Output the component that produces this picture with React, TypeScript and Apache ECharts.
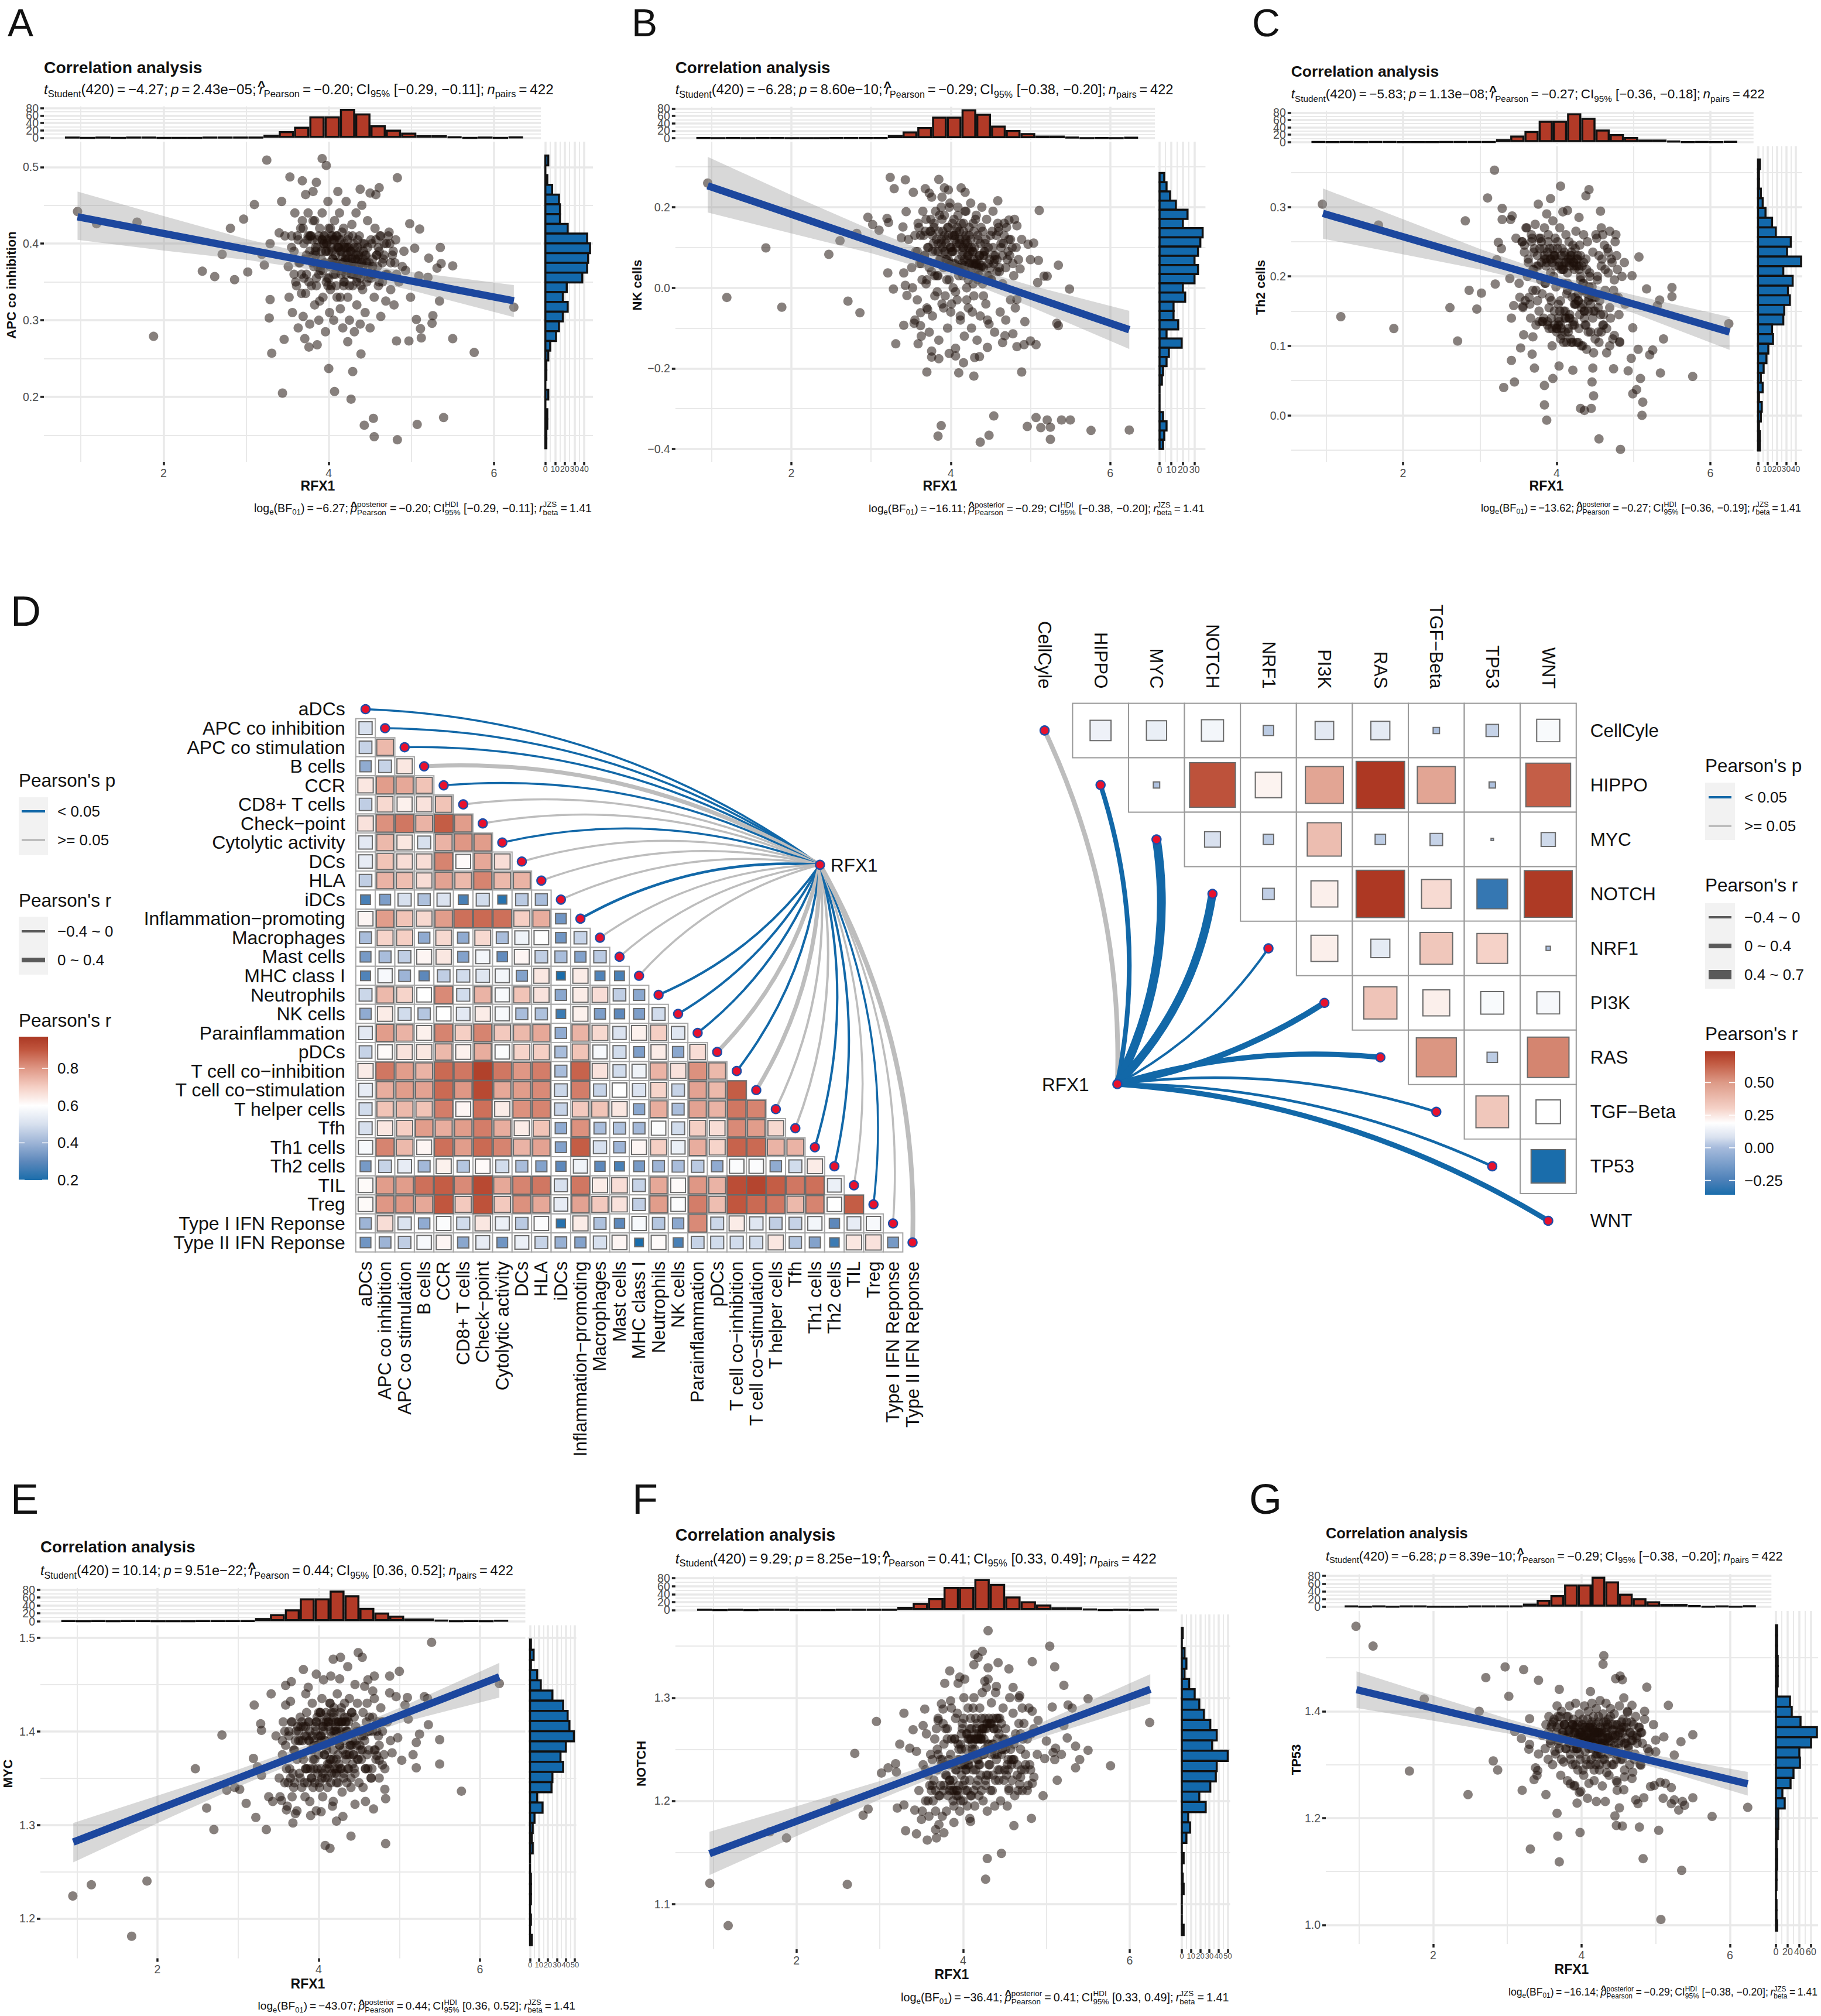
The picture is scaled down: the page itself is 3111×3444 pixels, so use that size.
import React, { useEffect, useRef } from "react";
import * as echarts from "echarts";

const FONT = '"Liberation Sans", Arial, sans-serif';

// ---------- RFX1 histogram (same in all scatter panels) ----------
const rfx1BinStart = 0.805;
const rfx1BinWidth = 0.185;
const rfx1Counts = [1, 0, 1, 0, 1, 1, 0, 0, 0, 1, 1, 1, 1, 8, 18, 30, 58, 58, 78, 66, 34, 22, 14, 7, 7, 3, 0, 1, 0, 2];
const topHistTicks = [0, 20, 40, 60, 80];

// ---------- right histograms ----------
const histA = [3, 0, 2, 7, 14, 15, 15, 23, 43, 46, 44, 43, 38, 22, 18, 23, 18, 14, 11, 5, 3, 1, 1, 0, 3, 0, 2, 2, 1, 1];
const histB = [4, 6, 9, 14, 24, 20, 37, 35, 33, 30, 33, 30, 20, 22, 12, 12, 16, 6, 19, 8, 6, 3, 2, 0, 0, 0, 3, 6, 4, 3];
const histC = [2, 1, 1, 3, 5, 8, 15, 19, 35, 31, 46, 27, 37, 32, 34, 28, 27, 15, 16, 11, 9, 6, 3, 5, 1, 4, 3, 1, 2, 2];
const histE = [1, 4, 1, 8, 12, 25, 37, 42, 44, 49, 40, 34, 37, 25, 24, 8, 14, 5, 3, 2, 3, 0, 0, 1, 1, 1, 0, 1, 0, 2];
const histF = [1, 0, 3, 5, 3, 8, 14, 19, 24, 31, 38, 33, 50, 38, 37, 31, 19, 26, 7, 9, 5, 0, 2, 0, 1, 2, 0, 0, 0, 2];
const histG = [2, 2, 2, 3, 3, 3, 2, 24, 27, 42, 70, 60, 40, 41, 30, 25, 11, 15, 4, 4, 3, 1, 2, 2, 1, 1, 0, 1, 1, 2];

// ---------- regression lines and confidence bands [x, lo, hi] ----------
const lineA = [[0.96, 0.435], [6.24, 0.3254]];
const bandA = [[0.96, 0.405, 0.468], [2, 0.391, 0.436], [3, 0.379, 0.406], [4.1, 0.361, 0.378], [5, 0.339, 0.363], [6.24, 0.304, 0.346]];
const lineB = [[0.95, 0.2533], [6.24, -0.104]];
const bandB = [[0.95, 0.187, 0.325], [2, 0.135, 0.23], [3, 0.086, 0.144], [4.1, 0.023, 0.059], [5, -0.047, 0.006], [6.24, -0.152, -0.057]];
const lineC = [[0.957, 0.2908], [6.25, 0.1199]];
const bandC = [[0.957, 0.2544, 0.3267], [2, 0.2318, 0.2824], [3, 0.21, 0.2396], [4.1, 0.1808, 0.1978], [5, 0.1472, 0.1732], [6.25, 0.0942, 0.1417]];
const lineE = [[0.956, 1.2816], [6.24, 1.4581]];
const bandE = [[0.956, 1.26, 1.302], [2, 1.3018, 1.3312], [3, 1.3407, 1.3591], [4.1, 1.3806, 1.3926], [5, 1.4087, 1.4249], [6.24, 1.436, 1.473]];
const lineF = [[0.956, 1.1488], [6.247, 1.3082]];
const bandF = [[0.956, 1.128, 1.17], [2, 1.1657, 1.1947], [3, 1.2014, 1.2192], [4.1, 1.2379, 1.2489], [5, 1.263, 1.278], [6.247, 1.2944, 1.3229]];
const lineG = [[0.967, 1.4404], [6.24, 1.2641]];
const bandG = [[0.967, 1.4063, 1.4746], [2, 1.3824, 1.4292], [3, 1.3585, 1.3863], [4.1, 1.3286, 1.3426], [5, 1.2937, 1.3173], [6.24, 1.242, 1.2863]];

// ---------- scatter: points readable one by one ----------
const outA = [[.96,.442],[1.19,.426],[1.68,.428],[1.88,.279],[2.47,.364],[2.62,.357],[2.71,.386],[2.81,.42],[2.86,.353],[2.97,.432],[3.02,.363],[3.1,.451],[3.25,.509],[3.19,.386],[3.22,.372],[3.29,.4],[3.4,.414],[3.43,.455],[3.53,.487],[3.68,.482],[3.85,.48],[3.92,.511],[3.97,.502],[3.72,.464],[3.81,.468],[4.11,.468],[4.38,.471],[4.61,.473],[4.83,.486],[4.5,.466],[4.57,.464],[4.98,.426],[5.1,.419],[5.35,.395],[5.21,.381],[5.04,.394],[4.91,.39],[5.36,.374],[5.5,.371],[5.31,.368],[4.93,.365],[5.09,.358],[5.2,.356],[5.34,.325],[4.99,.33],[6.24,.317],[5.76,.258],[5.5,.276],[5.12,.277],[4.97,.273],[4.82,.273],[5.11,.289],[5.25,.296],[5.26,.306],[5.06,.301],[3.29,.327],[3.28,.303],[3.31,.257],[3.46,.275],[3.71,.276],[3.76,.265],[3.86,.268],[4.23,.272],[4.39,.256],[4,.237],[4.29,.233],[3.44,.205],[4.07,.207],[4.27,.197],[4.43,.163],[4.54,.172],[4.55,.148],[4.83,.144],[5.07,.164],[5.39,.173]];
const outB = [[.95,.26],[1.19,-.024],[1.68,.099],[1.88,-.048],[2.47,.083],[2.61,.117],[2.71,-.033],[2.82,.135],[2.86,-.062],[2.96,.175],[3.02,.157],[3.1,.143],[3.2,.172],[3.22,.162],[3.24,.274],[3.43,.268],[3.29,.246],[3.53,.237],[3.44,.189],[3.4,.151],[3.38,.124],[3.21,.037],[3.28,-.003],[3.41,.037],[3.43,.006],[3.45,-.019],[3.62,-.062],[3.71,-.054],[3.41,-.093],[3.54,-.088],[3.62,-.094],[3.31,-.139],[3.59,-.139],[3.7,-.209],[4.1,-.211],[4.29,-.219],[4.89,-.209],[3.85,.269],[3.92,.248],[3.97,.243],[4.13,.248],[4.18,.237],[3.68,.246],[3.73,.235],[3.76,.225],[3.89,.225],[4.59,.216],[5.11,.192],[4.73,.168],[4.83,.154],[4.97,.108],[5.04,.111],[5,.07],[5.1,.068],[5.35,.056],[4.87,.047],[5.17,.029],[5.21,.029],[5.09,.013],[5.49,-.003],[4.83,-.029],[4.93,-.084],[5.33,-.088],[5.35,-.094],[4.78,-.114],[4.68,-.119],[4.65,-.136],[5,-.132],[5.07,-.141],[4.92,-.141],[4.83,-.146],[4.46,-.148],[6.24,-.353],[5.76,-.354],[5.5,-.328],[5.39,-.328],[5.25,-.376],[5.25,-.346],[5.21,-.328],[5.13,-.347],[5.07,-.322],[4.96,-.344],[4.54,-.318],[4.48,-.366],[4.37,-.383],[3.88,-.342],[3.84,-.368],[3.76,-.157],[3.76,-.172],[3.85,-.176],[3.98,-.163],[4.06,-.169],[4.16,-.186],[4.3,-.173],[4.36,-.171]];
const outC = [[.95,.304],[1.19,.142],[1.68,.274],[1.88,.125],[2.61,.155],[2.71,.107],[2.81,.28],[2.86,.18],[2.96,.153],[3.02,.176],[3.1,.313],[3.19,.353],[3.29,.298],[3.29,.282],[3.42,.287],[3.4,.282],[3.2,.189],[3.24,.249],[3.28,.24],[3.22,.224],[3.39,.197],[3.41,.14],[3.44,.158],[3.56,.157],[3.57,.116],[3.69,.113],[3.53,.097],[3.68,.088],[3.41,.079],[3.71,.068],[4.03,.071],[3.31,.04],[3.45,.048],[3.84,.043],[3.95,.053],[4.21,.065],[4.47,.068],[4.46,.048],[4.74,.067],[4.93,.064],[4.97,.082],[5.06,.095],[5.09,.053],[5.04,.037],[4.99,.031],[5.12,.019],[5.11,.0],[5.35,.061],[5.77,.056],[5.25,.094],[5.21,.087],[5.39,.11],[4.99,.126],[4.82,.106],[6.24,.132],[5.5,.184],[5.5,.171],[5.34,.166],[5.31,.158],[5.17,.182],[5.07,.228],[4.98,.201],[4.88,.22],[4.77,.26],[4.69,.265],[4.76,.25],[4.57,.294],[4.58,.27],[4.42,.325],[4.38,.316],[4.05,.33],[3.92,.312],[3.76,.304],[4.08,.293],[4.14,.295],[4.29,.285],[3.87,.29],[3.84,.015],[3.87,-.007],[4.31,.01],[4.36,.007],[4.45,.01],[4.48,.028],[4.55,-.034],[4.83,-.049]];
const outE = [[.95,1.224],[1.18,1.236],[1.68,1.181],[1.87,1.24],[2.47,1.36],[2.61,1.318],[2.7,1.295],[2.8,1.396],[2.86,1.337],[2.96,1.34],[3.02,1.338],[3.1,1.323],[3.22,1.308],[3.2,1.428],[3.35,1.295],[3.41,1.44],[3.28,1.408],[3.29,1.401],[3.19,1.371],[3.24,1.362],[3.29,1.353],[3.38,1.33],[3.43,1.325],[3.54,1.326],[3.6,1.316],[3.68,1.302],[3.71,1.312],[3.9,1.31],[4.03,1.314],[4.18,1.325],[4.22,1.304],[4.3,1.309],[4.45,1.322],[4.58,1.325],[4.68,1.317],[4.4,1.288],[4.83,1.28],[4.08,1.278],[4.14,1.275],[5.77,1.336],[5.5,1.365],[5.21,1.361],[5.03,1.369],[5.17,1.375],[4.91,1.377],[5.5,1.391],[5.21,1.388],[5.25,1.397],[4.98,1.393],[5.36,1.407],[5.11,1.413],[6.24,1.451],[5.31,1.437],[5.35,1.435],[5.1,1.436],[4.96,1.437],[5.07,1.428],[4.88,1.441],[4.67,1.443],[4.88,1.459],[5,1.464],[5.4,1.495],[4.49,1.484],[4.54,1.479],[4.18,1.477],[4.27,1.479],[4.36,1.469],[3.81,1.466],[3.97,1.461],[4.15,1.459],[4.26,1.456],[4.06,1.455],[3.66,1.453],[3.59,1.449],[3.87,1.447],[4.69,1.459],[4.61,1.455],[4.57,1.448],[4.45,1.45],[3.84,1.44],[3.65,1.432],[3.59,1.428],[4.82,1.338],[4.83,1.328],[4.79,1.364],[4.72,1.374],[4.75,1.369]];
const outF = [[.96,1.12],[1.18,1.079],[1.68,1.17],[1.88,1.164],[2.46,1.198],[2.61,1.119],[2.7,1.246],[2.8,1.186],[2.86,1.192],[2.96,1.277],[3.02,1.227],[3.1,1.232],[3.19,1.236],[3.2,1.228],[3.24,1.255],[3.29,1.285],[3.4,1.269],[3.52,1.273],[3.54,1.289],[3.36,1.251],[3.44,1.248],[3.21,1.193],[3.29,1.196],[3.42,1.191],[3.5,1.182],[3.31,1.171],[3.44,1.168],[3.57,1.162],[3.68,1.164],[3.77,1.169],[3.67,1.172],[3.71,1.177],[3.89,1.179],[4.09,1.18],[4.08,1.183],[4.61,1.176],[4.82,1.183],[4.46,1.149],[4.29,1.144],[4.27,1.124],[4.96,1.205],[4.77,1.21],[4.55,1.212],[4.68,1.216],[4.83,1.217],[4.85,1.223],[5.13,1.22],[4.69,1.223],[5.77,1.234],[5.35,1.232],[5.4,1.24],[5.1,1.24],[4.98,1.241],[5.18,1.245],[5.08,1.247],[5.11,1.251],[5.5,1.249],[5.35,1.253],[5.25,1.261],[5,1.258],[5.21,1.273],[4.9,1.278],[5.07,1.291],[5.26,1.293],[5.31,1.29],[5.5,1.299],[6.24,1.276],[5.21,1.312],[4.68,1.302],[4.6,1.31],[4.55,1.328],[4.42,1.334],[4.3,1.329],[4.83,1.335],[5.1,1.33],[5.04,1.35],[4.3,1.365],[4.23,1.345],[4.14,1.342],[4.18,1.339],[4.13,1.332],[3.84,1.326],[3.78,1.314],[3.94,1.314],[3.96,1.32],[4.02,1.318],[4.26,1.316],[4.3,1.318],[4.4,1.311],[4.83,1.287],[4.71,1.29],[3.85,1.297],[3.74,1.294],[3.76,1.289],[3.7,1.278]];
const outG = [[.96,1.559],[1.19,1.522],[1.68,1.288],[1.88,1.423],[2.47,1.244],[2.62,1.4],[2.71,1.463],[2.81,1.307],[2.87,1.29],[2.97,1.483],[3.02,1.428],[3.1,1.362],[3.19,1.349],[3.22,1.478],[3.2,1.252],[3.3,1.386],[3.29,1.329],[3.3,1.338],[3.36,1.272],[3.31,1.142],[3.42,1.458],[3.52,1.244],[3.38,1.294],[3.41,1.289],[3.4,1.28],[3.42,1.32],[3.67,1.209],[3.68,1.166],[3.7,1.118],[3.7,1.441],[3.98,1.173],[3.94,1.228],[4.08,1.237],[4.2,1.231],[4.32,1.231],[4.12,1.437],[4.29,1.488],[4.3,1.504],[4.46,1.461],[4.52,1.466],[4.55,1.459],[4.88,1.445],[5.17,1.411],[4.57,1.425],[4.68,1.411],[4.62,1.398],[4.85,1.4],[4.97,1.375],[5.5,1.356],[5.34,1.343],[5.11,1.352],[5,1.346],[4.91,1.324],[5,1.324],[5.25,1.318],[4.8,1.299],[4.69,1.286],[4.68,1.274],[4.58,1.277],[4.93,1.259],[4.98,1.261],[5.06,1.267],[5.13,1.265],[5.21,1.257],[5.5,1.238],[5.1,1.237],[5.25,1.234],[5.21,1.227],[5.36,1.231],[5.39,1.224],[5.31,1.215],[4.84,1.238],[4.73,1.234],[4.76,1.227],[4.51,1.219],[4.45,1.204],[4.47,1.186],[4.55,1.185],[4.78,1.183],[5.04,1.177],[4.83,1.124],[5.35,1.102],[5.07,1.01],[5.76,1.203],[6.24,1.22],[4.48,1.252],[4.57,1.253],[4.48,1.267],[3.97,1.248],[3.91,1.261],[3.85,1.264]];

// ---------- scatter: dense core (same RFX1 samples, different y) ----------
const coreX = [3.47,3.51,3.52,3.55,3.56,3.58,3.59,3.61,3.63,3.64,3.66,3.67,3.69,3.7,3.72,3.73,3.75,3.76,3.77,3.79,3.8,3.81,3.83,3.84,3.85,3.86,3.88,3.89,3.9,3.91,3.92,3.93,3.94,3.95,3.96,3.97,3.98,3.99,4.0,4.01,4.02,4.03,4.04,4.05,4.06,4.07,4.08,4.09,4.1,4.11,4.12,4.13,4.14,4.15,4.16,4.17,4.18,4.19,4.2,4.21,4.22,4.23,4.24,4.25,4.26,4.27,4.28,4.29,4.3,4.31,4.32,4.33,4.34,4.35,4.36,4.37,4.38,4.39,4.4,4.41,4.43,4.44,4.45,4.47,4.48,4.5,4.51,4.53,4.55,4.56,4.58,4.6,4.62,4.63,4.65,4.67,4.69,4.71,4.73,4.75,4.77,4.79,4.81,4.85,4.89,3.92,3.97,4.03,4.07,4.12,4.16,4.21,4.26,4.31,4.36,3.88,3.94,4.0,4.06,4.11,4.18,4.24,4.29,4.34,4.42,3.78,3.84,4.02,4.14,4.22,4.28,4.46,4.54,4.61,3.68,
3.55,3.58,3.6,3.63,3.65,3.67,3.69,3.71,3.73,3.75,3.77,3.79,3.8,3.82,3.83,3.85,3.86,3.88,3.89,3.91,3.92,3.93,3.95,3.96,3.97,3.98,4.0,4.01,4.02,4.03,4.05,4.06,4.07,4.08,4.09,4.1,4.11,4.12,4.13,4.14,4.15,4.16,4.17,4.18,4.19,4.2,4.21,4.22,4.23,4.24,4.25,4.27,4.28,4.29,4.3,4.31,4.32,4.34,4.35,4.36,4.37,4.39,4.4,4.41,4.43,4.44,4.46,4.47,4.49,4.5,4.52,4.53,4.55,4.57,4.59,4.61,4.63,4.65,4.67,4.7,4.72,4.75,4.78,4.82,3.74,3.81,3.87,3.94,3.99,4.04,4.09,4.15,4.19,4.23,4.26,4.33,4.38,4.42,4.48,4.54,4.6,4.66,4.74,3.7,3.77,3.84,3.9,3.98,4.05,4.1,4.17,4.22,4.28,4.35,4.41,4.51,4.58,4.69,3.62,4.8];
const coreA = [.41,.37,.33,.395,.31,.36,.44,.345,.29,.375,.42,.36,.305,.4,.335,.385,.44,.35,.295,.41,.375,.43,.32,.395,.345,.405,.3,.42,.365,.39,.44,.33,.41,.375,.285,.4,.355,.455,.39,.31,.42,.345,.405,.38,.3,.43,.36,.41,.33,.395,.37,.44,.315,.405,.385,.29,.42,.35,.395,.455,.375,.33,.41,.3,.39,.36,.425,.345,.4,.285,.38,.44,.32,.395,.36,.41,.295,.375,.45,.34,.4,.31,.385,.43,.355,.29,.405,.37,.33,.42,.385,.345,.41,.305,.375,.4,.325,.36,.415,.34,.385,.32,.405,.35,.37,.405,.39,.41,.375,.395,.365,.38,.39,.37,.385,.36,.4,.355,.405,.375,.345,.395,.37,.355,.38,.41,.385,.37,.39,.365,.38,.375,.36,.35,.43,
.41,.39,.35,.405,.375,.335,.42,.38,.36,.41,.39,.345,.405,.37,.43,.355,.395,.41,.325,.38,.405,.365,.41,.39,.35,.405,.42,.375,.34,.395,.41,.36,.405,.385,.345,.41,.37,.395,.405,.33,.39,.415,.375,.35,.4,.38,.36,.395,.405,.37,.345,.39,.375,.41,.36,.395,.38,.35,.405,.37,.39,.345,.375,.4,.36,.385,.35,.395,.375,.36,.4,.38,.36,.405,.37,.39,.41,.35,.385,.4,.41,.375,.39,.36,.405,.385,.37,.4,.345,.39,.375,.36,.395,.38,.37,.385,.355,.39,.37,.36,.395,.38,.4,.355,.41,.39,.37,.4,.38,.395,.375,.385,.36,.38,.37,.355,.385,.36,.41,.375];
const coreB = [.12,.05,0,-.08,.09,-.03,.16,.06,-.12,.02,.13,.08,.01,-.05,.1,-.11,.17,.04,-.07,.15,.03,.19,-.01,.11,-.13,.07,.2,-.04,.14,.05,.18,-.02,.12,.07,-.1,.15,.02,.21,-.06,.09,.13,0,.17,.06,-.15,.1,-.03,.2,.05,.12,-.08,.16,.08,.03,.14,-.12,.11,.19,0,.07,-.05,.13,.04,.21,-.1,.09,.16,-.02,.1,.06,.18,-.13,.12,.03,.08,-.07,.15,.2,.01,.05,.11,-.04,.17,.06,-.09,.13,.02,.19,-.11,.08,.04,.14,-.06,.1,.01,.16,-.08,.07,.12,-.03,.1,.03,-.05,.07,.12,.09,.13,.06,.14,.04,.1,.08,.05,.03,.06,.12,.07,.1,.05,.11,.04,.09,.07,.02,.08,.11,.03,.09,.06,.02,.01,.03,.06,.05,.14,
.13,.09,.15,.06,.19,.08,.17,.1,.05,.14,.09,.16,-.02,.12,.03,.14,.18,.11,.17,-.05,.13,.09,.02,.15,.07,.2,.1,-.04,.16,.09,.13,-.01,.11,.15,.18,.03,.14,-.07,.12,.05,.1,.16,.07,.19,.13,-.03,.11,.08,.15,.06,.12,-.06,.09,.14,.055,.17,.06,.13,.05,.08,.11,.055,.14,-.02,.09,.12,-.08,.1,.07,.05,.14,.1,.07,.13,.16,.04,.11,.08,.13,.15,.09,.12,.06,.1,.14,.09,.07,.11,.055,.13,.05,.09,.12,.06,.1,.07,.05,.09,.03,.08,.15,.11,.08,.02,.13,.09,.1,.06,.12,.07,.055,.1,.06,.04,.08,.02,.07,.05,.13,.17];
const coreC = [.255,.19,.17,.25,.155,.245,.165,.27,.225,.17,.14,.26,.18,.235,.275,.13,.165,.215,.255,.195,.25,.175,.14,.27,.19,.225,.135,.26,.155,.24,.205,.165,.125,.28,.23,.15,.255,.185,.12,.24,.14,.215,.27,.165,.125,.24,.19,.105,.23,.15,.26,.175,.205,.12,.25,.145,.225,.105,.185,.245,.135,.21,.16,.265,.105,.23,.175,.125,.245,.195,.155,.215,.1,.26,.14,.18,.225,.095,.25,.165,.205,.12,.175,.235,.09,.15,.26,.195,.105,.165,.215,.13,.245,.18,.09,.205,.155,.225,.11,.195,.17,.21,.145,.2,.16,.225,.23,.135,.215,.14,.22,.13,.225,.2,.15,.235,.22,.125,.21,.14,.23,.17,.215,.16,.185,.24,.23,.13,.18,.22,.165,.17,.155,.145,.255,
.25,.235,.27,.22,.16,.25,.21,.24,.18,.23,.15,.255,.22,.135,.24,.19,.215,.13,.25,.17,.225,.14,.24,.2,.13,.215,.125,.25,.16,.22,.13,.23,.115,.21,.15,.235,.12,.22,.105,.19,.225,.14,.215,.11,.235,.17,.105,.22,.13,.24,.16,.225,.105,.21,.145,.23,.1,.19,.22,.15,.13,.21,.175,.12,.2,.16,.185,.14,.17,.11,.255,.2,.23,.145,.225,.13,.21,.125,.235,.14,.22,.115,.23,.105,.215,.135,.22,.1,.225,.15,.21,.125,.23,.16,.215,.18,.13,.17,.15,.12,.26,.24,.18,.21,.135,.225,.125,.23,.11,.22,.14,.215,.165,.19,.15,.17,.12,.1,.2,.17];
const coreE = [1.395,1.35,1.33,1.375,1.41,1.345,1.385,1.32,1.4,1.36,1.41,1.33,1.38,1.345,1.4,1.315,1.39,1.355,1.415,1.34,1.375,1.405,1.33,1.36,1.395,1.345,1.41,1.325,1.38,1.35,1.43,1.34,1.39,1.37,1.405,1.315,1.385,1.355,1.42,1.345,1.395,1.36,1.435,1.33,1.405,1.375,1.35,1.42,1.385,1.34,1.41,1.365,1.43,1.345,1.395,1.32,1.38,1.425,1.355,1.4,1.37,1.44,1.345,1.41,1.385,1.36,1.425,1.335,1.395,1.35,1.43,1.375,1.41,1.345,1.4,1.36,1.435,1.385,1.34,1.42,1.375,1.415,1.355,1.4,1.43,1.345,1.385,1.37,1.42,1.395,1.36,1.43,1.38,1.415,1.35,1.4,1.435,1.37,1.41,1.385,1.425,1.4,1.375,1.41,1.39,1.38,1.41,1.395,1.39,1.405,1.42,1.41,1.4,1.39,1.415,1.39,1.385,1.375,1.4,1.365,1.415,1.375,1.41,1.4,1.365,1.405,1.36,1.42,1.37,1.4,1.41,1.39,1.38,1.4,1.355,
1.39,1.4,1.36,1.395,1.35,1.41,1.34,1.39,1.37,1.4,1.35,1.41,1.39,1.345,1.395,1.42,1.36,1.39,1.4,1.35,1.395,1.37,1.345,1.4,1.41,1.36,1.385,1.34,1.42,1.39,1.355,1.41,1.375,1.39,1.36,1.415,1.35,1.41,1.36,1.43,1.4,1.355,1.41,1.37,1.42,1.36,1.405,1.345,1.39,1.41,1.365,1.42,1.36,1.4,1.38,1.355,1.415,1.37,1.4,1.36,1.41,1.385,1.35,1.42,1.375,1.36,1.405,1.385,1.37,1.4,1.38,1.395,1.34,1.39,1.41,1.36,1.4,1.35,1.415,1.38,1.4,1.35,1.41,1.36,1.405,1.37,1.41,1.36,1.395,1.35,1.41,1.37,1.4,1.36,1.385,1.41,1.375,1.39,1.37,1.4,1.375,1.36,1.395,1.38,1.39,1.405,1.36,1.415,1.405,1.38,1.39,1.355,1.41,1.375,1.385,1.4,1.36,1.38,1.345,1.41];
const coreF = [1.21,1.19,1.235,1.2,1.265,1.225,1.185,1.245,1.215,1.2,1.26,1.19,1.23,1.28,1.205,1.24,1.185,1.275,1.215,1.225,1.19,1.27,1.235,1.21,1.245,1.29,1.22,1.195,1.26,1.23,1.205,1.285,1.24,1.215,1.19,1.255,1.225,1.275,1.2,1.3,1.235,1.21,1.265,1.195,1.29,1.24,1.22,1.28,1.205,1.255,1.23,1.3,1.195,1.26,1.215,1.275,1.24,1.205,1.29,1.225,1.265,1.305,1.2,1.245,1.28,1.22,1.31,1.19,1.255,1.235,1.275,1.21,1.295,1.25,1.225,1.27,1.195,1.305,1.24,1.26,1.22,1.28,1.2,1.25,1.29,1.23,1.27,1.195,1.255,1.3,1.24,1.285,1.205,1.265,1.225,1.3,1.25,1.21,1.275,1.235,1.26,1.29,1.23,1.27,1.245,1.21,1.235,1.23,1.26,1.245,1.265,1.26,1.27,1.255,1.28,1.2,1.205,1.215,1.235,1.25,1.26,1.27,1.275,1.245,1.28,1.235,1.22,1.24,1.25,1.26,1.27,1.245,1.23,1.255,1.27,
1.23,1.2,1.215,1.24,1.22,1.21,1.25,1.205,1.215,1.24,1.21,1.27,1.225,1.205,1.24,1.215,1.26,1.235,1.21,1.28,1.23,1.21,1.25,1.24,1.2,1.265,1.235,1.28,1.22,1.25,1.21,1.26,1.235,1.27,1.205,1.26,1.245,1.29,1.21,1.26,1.23,1.27,1.26,1.22,1.265,1.235,1.26,1.21,1.27,1.245,1.26,1.215,1.275,1.25,1.225,1.28,1.235,1.275,1.21,1.255,1.27,1.22,1.28,1.245,1.265,1.23,1.275,1.25,1.22,1.26,1.225,1.235,1.21,1.25,1.22,1.24,1.26,1.235,1.275,1.23,1.26,1.245,1.215,1.265,1.235,1.26,1.21,1.255,1.27,1.23,1.26,1.28,1.235,1.27,1.25,1.275,1.245,1.23,1.26,1.24,1.24,1.21,1.23,1.245,1.255,1.22,1.26,1.25,1.265,1.27,1.24,1.28,1.225,1.255,1.27,1.25,1.235,1.265,1.21,1.235];
const coreG = [1.355,1.33,1.375,1.31,1.39,1.345,1.37,1.3,1.385,1.325,1.36,1.41,1.34,1.375,1.28,1.4,1.355,1.305,1.375,1.33,1.39,1.27,1.36,1.41,1.32,1.345,1.3,1.385,1.26,1.37,1.415,1.33,1.375,1.29,1.355,1.395,1.31,1.25,1.36,1.34,1.385,1.28,1.41,1.325,1.365,1.3,1.345,1.4,1.265,1.355,1.375,1.31,1.415,1.34,1.39,1.27,1.36,1.3,1.405,1.33,1.35,1.38,1.29,1.42,1.32,1.365,1.26,1.395,1.34,1.31,1.37,1.415,1.3,1.355,1.385,1.28,1.345,1.405,1.325,1.365,1.3,1.395,1.35,1.27,1.375,1.33,1.41,1.31,1.36,1.385,1.29,1.37,1.4,1.335,1.3,1.38,1.355,1.31,1.39,1.34,1.37,1.3,1.36,1.385,1.33,1.36,1.345,1.37,1.355,1.35,1.365,1.34,1.36,1.335,1.35,1.375,1.33,1.355,1.34,1.37,1.345,1.36,1.33,1.35,1.375,1.35,1.365,1.345,1.33,1.36,1.34,1.355,1.38,1.32,1.39,
1.36,1.34,1.375,1.35,1.32,1.37,1.345,1.39,1.31,1.36,1.375,1.33,1.35,1.39,1.365,1.31,1.345,1.375,1.33,1.36,1.3,1.37,1.35,1.38,1.32,1.36,1.34,1.375,1.29,1.355,1.37,1.31,1.345,1.385,1.36,1.33,1.37,1.3,1.35,1.38,1.34,1.365,1.29,1.355,1.375,1.32,1.36,1.345,1.39,1.3,1.37,1.335,1.355,1.31,1.38,1.34,1.36,1.285,1.37,1.35,1.32,1.39,1.345,1.3,1.365,1.335,1.375,1.31,1.355,1.34,1.365,1.345,1.31,1.37,1.35,1.38,1.33,1.36,1.345,1.375,1.32,1.355,1.37,1.34,1.36,1.35,1.375,1.33,1.36,1.34,1.35,1.37,1.315,1.36,1.34,1.38,1.33,1.355,1.32,1.37,1.34,1.36,1.35,1.33,1.375,1.34,1.36,1.35,1.37,1.345,1.36,1.32,1.35,1.375,1.33,1.36,1.34,1.345,1.38,1.36];

// ---------- texts of the scatter panels ----------
const T = "\u2009";
const fmtLine = (s: string) => s.replace(/ = /g, `${T}=${T}`).replace(/; /g, `;${T}`);
const subA = fmtLine("*t*_{Student}(420) = −4.27; *p* = 2.43e−05; *r̂*_{Pearson} = −0.20; CI_{95%} [−0.29, −0.11]; *n*_{pairs} = 422");
const capA = fmtLine("log_{e}(BF_{01}) = −6.27; *ρ̂*§{posterior|Pearson} = −0.20; CI§{HDI|95%} [−0.29, −0.11]; *r*§{JZS|beta} = 1.41");
const subB = fmtLine("*t*_{Student}(420) = −6.28; *p* = 8.60e−10; *r̂*_{Pearson} = −0.29; CI_{95%} [−0.38, −0.20]; *n*_{pairs} = 422");
const capB = fmtLine("log_{e}(BF_{01}) = −16.11; *ρ̂*§{posterior|Pearson} = −0.29; CI§{HDI|95%} [−0.38, −0.20]; *r*§{JZS|beta} = 1.41");
const subC = fmtLine("*t*_{Student}(420) = −5.83; *p* = 1.13e−08; *r̂*_{Pearson} = −0.27; CI_{95%} [−0.36, −0.18]; *n*_{pairs} = 422");
const capC = fmtLine("log_{e}(BF_{01}) = −13.62; *ρ̂*§{posterior|Pearson} = −0.27; CI§{HDI|95%} [−0.36, −0.19]; *r*§{JZS|beta} = 1.41");
const subE = fmtLine("*t*_{Student}(420) = 10.14; *p* = 9.51e−22; *r̂*_{Pearson} = 0.44; CI_{95%} [0.36, 0.52]; *n*_{pairs} = 422");
const capE = fmtLine("log_{e}(BF_{01}) = −43.07; *ρ̂*§{posterior|Pearson} = 0.44; CI§{HDI|95%} [0.36, 0.52]; *r*§{JZS|beta} = 1.41");
const subF = fmtLine("*t*_{Student}(420) = 9.29; *p* = 8.25e−19; *r̂*_{Pearson} = 0.41; CI_{95%} [0.33, 0.49]; *n*_{pairs} = 422");
const capF = fmtLine("log_{e}(BF_{01}) = −36.41; *ρ̂*§{posterior|Pearson} = 0.41; CI§{HDI|95%} [0.33, 0.49]; *r*§{JZS|beta} = 1.41");
const subG = fmtLine("*t*_{Student}(420) = −6.28; *p* = 8.39e−10; *r̂*_{Pearson} = −0.29; CI_{95%} [−0.38, −0.20]; *n*_{pairs} = 422");
const capG = fmtLine("log_{e}(BF_{01}) = −16.14; *ρ̂*§{posterior|Pearson} = −0.29; CI§{HDI|95%} [−0.38, −0.20]; *r*§{JZS|beta} = 1.41");

// ---------- immune matrix (panel D left) ----------
const immuneNames = ["aDCs","APC co inhibition","APC co stimulation","B cells","CCR","CD8+ T cells","Check−point","Cytolytic activity","DCs","HLA","iDCs","Inflammation−promoting","Macrophages","Mast cells","MHC class I","Neutrophils","NK cells","Parainflammation","pDCs","T cell co−inhibition","T cell co−stimulation","T helper cells","Tfh","Th1 cells","Th2 cells","TIL","Treg","Type I IFN Reponse","Type II IFN Reponse"];
const immuneR = [
  [.5],
  [.47,.74],
  [.38,.47,.65],
  [.65,.79,.77,.72],
  [.46,.68,.63,.66,.72],
  [.66,.81,.85,.75,.89,.79],
  [.53,.74,.65,.5,.75,.8,.79],
  [.54,.72,.67,.67,.83,.61,.77,.67],
  [.46,.75,.73,.67,.78,.74,.83,.74,.75],
  [.27,.35,.5,.43,.51,.27,.49,.22,.45,.42],
  [.62,.79,.72,.68,.79,.86,.87,.86,.7,.76,.33],
  [.42,.69,.7,.38,.68,.38,.68,.42,.56,.6,.33,.47],
  [.34,.42,.46,.62,.65,.36,.57,.31,.62,.46,.42,.36,.45],
  [.28,.58,.4,.3,.46,.49,.52,.57,.36,.65,.2,.64,.28,.27],
  [.48,.74,.69,.6,.82,.49,.75,.58,.72,.66,.37,.64,.67,.46,.37],
  [.38,.64,.49,.44,.6,.53,.64,.58,.42,.43,.25,.63,.35,.3,.35,.49],
  [.53,.79,.75,.63,.83,.7,.83,.71,.74,.77,.38,.75,.68,.51,.63,.7,.52],
  [.47,.61,.66,.65,.74,.63,.76,.59,.69,.7,.42,.72,.58,.49,.35,.64,.37,.67],
  [.64,.85,.79,.75,.87,.85,.95,.85,.8,.84,.42,.88,.66,.49,.56,.75,.66,.81,.74],
  [.54,.76,.79,.78,.87,.8,.93,.77,.79,.82,.48,.84,.47,.6,.51,.69,.47,.78,.74,.89],
  [.49,.72,.74,.72,.84,.62,.86,.64,.81,.83,.47,.71,.72,.65,.37,.76,.42,.78,.75,.85,.83],
  [.5,.65,.7,.79,.76,.79,.84,.76,.64,.72,.38,.81,.42,.43,.41,.59,.49,.7,.67,.82,.79,.68],
  [.58,.83,.74,.62,.86,.79,.87,.83,.75,.78,.36,.89,.5,.4,.62,.7,.55,.76,.69,.88,.87,.75,.75],
  [.34,.47,.54,.41,.63,.44,.61,.49,.42,.36,.3,.56,.3,.27,.34,.4,.42,.45,.38,.59,.59,.38,.49,.64],
  [.61,.79,.79,.86,.89,.82,.93,.77,.83,.85,.5,.85,.64,.67,.47,.77,.61,.8,.75,.92,.94,.89,.85,.86,.55],
  [.61,.8,.8,.77,.9,.71,.91,.71,.81,.77,.54,.78,.71,.66,.46,.79,.59,.84,.73,.9,.87,.85,.74,.83,.6,.89],
  [.4,.67,.51,.38,.59,.49,.65,.55,.45,.59,.22,.64,.43,.3,.58,.44,.37,.82,.48,.64,.52,.46,.47,.57,.3,.54,.58],
  [.33,.4,.46,.58,.62,.37,.54,.33,.55,.47,.39,.36,.5,.62,.2,.61,.27,.47,.49,.49,.49,.65,.44,.36,.25,.65,.66,.34],
];
const immuneLinkP = [1,1,1,0,1,0,0,1,0,0,0,1,0,0,0,1,1,1,0,1,0,0,0,1,1,0,1,0,0]; // 1: p < 0.05
const immuneLinkW = [3.5,3.5,3.5,7,3.5,3.5,3.5,3.5,3.5,3.5,3.5,4.5,3.5,3.5,3.5,4,4,4,7,4,7,4,4,4,4,3.5,3.5,3.5,8];
const immuneRfx1 = [23.26, 8.17];
const immuneStops: [number, string][] = [[.2,"#1a6dab"],[.3,"#5d88bb"],[.4,"#9db4d6"],[.5,"#d7e0ee"],[.6,"#ffffff"],[.7,"#f5cfc4"],[.8,"#df9785"],[.9,"#c1563e"],[.97,"#ab3823"]];

// ---------- pathway matrix (panel D right) ----------
const pathNames = ["CellCyle","HIPPO","MYC","NOTCH","NRF1","PI3K","RAS","TGF−Beta","TP53","WNT"];
const pathR = [
  [.14,.13,.156,.035,.11,.115,.013,.05,.17],
  [.013,.67,.22,.46,.75,.46,.013,.64],
  [.08,.035,.375,.035,.05,.002,.065],
  [.043,.23,.75,.28,-.3,.735],
  [.23,.115,.34,.3,.006],
  [.35,.23,.17,.165],
  [.51,.035,.55],
  [.34,.19],
  [-.375],
];
const pathLinkP = [0,1,1,1,1,1,1,1,1,1];
const pathLinkW = [8,8,15,14,4,10,9,4.5,4.5,9];
const pathLinkC = [-.12,-.13,-.16,-.16,-.12,-.1,.1,.11,.11,.12];
const pathRfx1 = [1.3, 6.49];
const pathStops: [number, string][] = [[-.36,"#1a6dab"],[-.25,"#4c80b8"],[0,"#a6bbdc"],[.08,"#d9e1ef"],[.19,"#ffffff"],[.3,"#f5d2c8"],[.5,"#dd9a87"],[.65,"#c25a42"],[.74,"#ad3823"]];

// ---------- layout of the scatter panels (pixels) ----------
const PANELS: any[] = [
  { letter:"A", lx:13, ly:38.5, lf:66, l:75, r:924, x2:279.3, x6:844, t:242, b:789, yA:[.5,285.3], yB:[.2,678], yMaj:[.2,.3,.4,.5], yMin:[.15,.25,.35,.45], yDec:1,
    h0:235.4, h80:184.8, rl:928, rr:1013, r0:931.7, rPer10:16.6, rMaj:[0,10,20,30,40], rFont:14, binTop:.5149, binW:.01273, hist:histA, line:lineA, band:bandA, out:outA, core:coreA,
    title:"APC co inhibition", tW:28.3, tY:115, sub:subA, subW:870.7, subY:152, cap:capA, capW:577, capR:1011, capY:868, xtX:543, xtY:830, ytX:19, ytY:487 },
  { letter:"B", lx:1079, ly:38.5, lf:66, l:1153.8, r:1973, x2:1352, x6:1896.6, t:242, b:789, yA:[.2,354], yB:[-.4,767], yMaj:[-.4,-.2,0,.2], yMin:[-.3,-.1,.1,.3], yDec:1,
    h0:236, h80:185.4, rl:1977.7, rr:2059.4, r0:1981, rPer10:19.9, rMaj:[0,10,20,30], rFont:16, binTop:.285, binW:.02283, hist:histB, line:lineB, band:bandB, out:outB, core:coreB,
    title:"NK cells", tW:27.7, tY:115, sub:subB, subW:850.7, subY:153, cap:capB, capW:574, capR:2058, capY:868, xtX:1606, xtY:830, ytX:1088, ytY:487 },
  { letter:"C", lx:2139, ly:38.5, lf:66, l:2205.8, r:2995.7, x2:2397, x6:2922, t:249.7, b:789, yA:[.3,353.6], yB:[0,709.5], yMaj:[0,.1,.2,.3], yMin:[-.05,.05,.15,.25,.35], yDec:1,
    h0:242.8, h80:192.3, rl:3000, rr:3078.7, r0:3003.4, rPer10:16, rMaj:[0,10,20,30,40], rFont:14, binTop:.3684, binW:.01397, hist:histC, line:lineC, band:bandC, out:outC, core:coreC,
    title:"Th2 cells", tW:26.4, tY:122, sub:subC, subW:809, subY:160.7, cap:capC, capW:547, capR:3077, capY:868, xtX:2642, xtY:830, ytX:2153, ytY:491 },
  { letter:"E", lx:18, ly:2561, lf:72, l:69, r:897.5, x2:269, x6:820, t:2776.4, b:3345.4, yA:[1.5,2797.7], yB:[1.2,3277.4], yMaj:[1.2,1.3,1.4,1.5], yMin:[1.25,1.35,1.45], yDec:1,
    h0:2769.5, h80:2715.8, rl:901.5, rr:984.6, r0:905.5, rPer10:15.3, rMaj:[0,10,20,30,40,50], rFont:13, binTop:1.498, binW:.01088, hist:histE, line:lineE, band:bandE, out:outE, core:coreE,
    title:"MYC", tW:27.7, tY:2642.6, sub:subE, subW:808, subY:2683, cap:capE, capW:542.5, capR:983, capY:3426.7, xtX:526, xtY:3388.7, ytX:13.4, ytY:3030 },
  { letter:"F", lx:1080, ly:2561, lf:72, l:1153.8, r:2011, x2:1360.7, x6:1930, t:2758, b:3330, yA:[1.3,2900.3], yB:[1.1,3252.6], yMaj:[1.1,1.2,1.3], yMin:[1.15,1.25,1.35], yDec:1,
    h0:2750.4, h80:2696.2, rl:2015.8, rr:2101.5, r0:2019, rPer10:15.7, rMaj:[0,10,20,30,40,50], rFont:13, binTop:1.3678, binW:.00993, hist:histF, line:lineF, band:bandF, out:outF, core:coreF,
    title:"NOTCH", tW:28.6, tY:2622.4, sub:subF, subW:822, subY:2662.8, cap:capF, capW:560.5, capR:2099.5, capY:3411.7, xtX:1626, xtY:3373, ytX:1095.5, ytY:3013 },
  { letter:"G", lx:2134, ly:2561, lf:72, l:2265, r:3026.3, x2:2448.4, x6:2955.4, t:2752, b:3321, yA:[1.4,2923.4], yB:[1,3288.3], yMaj:[1,1.2,1.4], yMin:[1.1,1.3,1.5], yDec:1,
    h0:2744.7, h80:2692.2, rl:3029.5, rr:3106, r0:3034, rPer10:10, rMaj:[0,20,40,60], rFont:16, binTop:1.561, binW:.01906, hist:histG, line:lineG, band:bandG, out:outG, core:coreG,
    title:"TP53", tW:25.4, tY:2619, sub:subG, subW:780.5, subY:2658, cap:capG, capW:528, capR:3105, capY:3403, xtX:2685, xtY:3364.4, ytX:2214, ytY:3006 },
];

const GRID_COLOR = "#e9e9e9";
const TICK_COLOR = "#222222";
const LABEL_COLOR = "#4d4d4d";
const LINK_BLUE = "#1268a8";
const LINK_GREY = "#bdbdbd";

function hexToRgb(h: string) {
  return [parseInt(h.slice(1, 3), 16), parseInt(h.slice(3, 5), 16), parseInt(h.slice(5, 7), 16)];
}
function colourOf(stops: [number, string][], v: number) {
  if (v <= stops[0][0]) return stops[0][1];
  for (let i = 1; i < stops.length; i++) {
    if (v <= stops[i][0]) {
      const t = (v - stops[i - 1][0]) / (stops[i][0] - stops[i - 1][0]);
      const a = hexToRgb(stops[i - 1][1]);
      const b = hexToRgb(stops[i][1]);
      return `rgb(${a.map((c, k) => Math.round(c + (b[k] - c) * t)).join(",")})`;
    }
  }
  return stops[stops.length - 1][1];
}

// ---------- text runs with sub/superscripts ----------
const measureCtx = document.createElement("canvas").getContext("2d") as CanvasRenderingContext2D;
function textW(s: string, italic: boolean) {
  measureCtx.font = `${italic ? "italic " : ""}100px "Liberation Sans"`;
  return measureCtx.measureText(s).width;
}
function parseRuns(s: string) {
  const re = /\*([^*]+)\*|_\{([^}]*)\}|§\{([^|]*)\|([^}]*)\}|([^*_§]+)/g;
  const runs: any[] = [];
  let m: RegExpExecArray | null;
  while ((m = re.exec(s))) {
    if (m[1] != null) {
      const hat = m[1].includes("\u0302");
      runs.push({ k: "n", t: m[1].replace("\u0302", ""), it: true, hat });
    } else if (m[2] != null) runs.push({ k: "sub", t: m[2] });
    else if (m[3] != null) runs.push({ k: "st", a: m[3], b: m[4] });
    else runs.push({ k: "n", t: m[5] });
  }
  return runs;
}
const SCRIPT = 0.68;
function runWidth(r: any) {
  if (r.k === "n") return textW(r.t, !!r.it);
  if (r.k === "sub") return textW(r.t, false) * SCRIPT;
  return Math.max(textW(r.a, false), textW(r.b, false)) * SCRIPT;
}
function richLine(s: string, x: number, yc: number, target: number, anchorRight: boolean) {
  const runs = parseRuns(s);
  const total = runs.reduce((acc, r) => acc + runWidth(r), 0);
  const size = (target / total) * 100;
  let px = anchorRight ? x - target : x;
  const base = yc + 0.3465 * size;
  const out: any[] = [];
  const put = (t: string, xx: number, baseline: number, sz: number, it: boolean, bold = false) =>
    out.push({ type: "text", x: xx, y: baseline - 0.3465 * sz, silent: true, z: 50,
      style: { text: t, fontSize: sz, fontFamily: FONT, fontStyle: it ? "italic" : "normal", fontWeight: bold ? "bold" : "normal", fill: "#111", align: "left", verticalAlign: "middle" } });
  runs.forEach((r) => {
    const w = (runWidth(r) * size) / 100;
    if (r.k === "n") {
      put(r.t, px, base, size, !!r.it);
      if (r.hat) put("^", px + w / 2 - 0.29 * size, base - 0.22 * size, size, false, true);
    } else if (r.k === "sub") put(r.t, px, base + 0.22 * size, size * SCRIPT, false);
    else {
      put(r.a, px, base - 0.42 * size, size * SCRIPT, false);
      put(r.b, px, base + 0.26 * size, size * SCRIPT, false);
    }
    px += w;
  });
  return out;
}
function plain(t: string, x: number, y: number, size: number, extra: any = {}, rotation = 0) {
  return { type: "text", x, y, rotation, silent: true, z: 50,
    style: { text: t, fontSize: size, fontFamily: FONT, fill: "#111", align: "left", verticalAlign: "middle", ...extra } };
}

// ---------- builders ----------
const grids: any[] = [];
const xAxes: any[] = [];
const yAxes: any[] = [];
const seriesList: any[] = [];
const gfx: any[] = [];

function axisPair(dim: "x" | "y", gridIndex: number, min: number, max: number, majors: number[], minors: number[], o: any) {
  const list = dim === "x" ? xAxes : yAxes;
  const base = { type: "value", gridIndex, min, max, silent: true, position: dim === "x" ? "bottom" : "left", axisLine: { show: false, onZero: false } };
  list.push({
    ...base,
    axisTick: { show: !!o.ticks, length: 6, lineStyle: { width: 3.5, color: TICK_COLOR }, customValues: majors },
    axisLabel: { show: !!o.labels, customValues: majors, showMinLabel: true, showMaxLabel: true, fontSize: o.font || 19.5, fontFamily: FONT, color: LABEL_COLOR, margin: o.margin ?? 7, formatter: o.fmt, hideOverlap: false },
    splitLine: { show: true, lineStyle: { color: GRID_COLOR, width: 3.5 } },
  });
  const idx = list.length - 1;
  list.push({
    ...base,
    axisTick: { show: false, customValues: minors },
    axisLabel: { show: false },
    splitLine: { show: true, lineStyle: { color: GRID_COLOR, width: 2 } },
  });
  return idx;
}
const signed = (d: number) => (v: number) => v.toFixed(d).replace("-", "−");

function buildPanel(p: any) {
  const ppx = (p.x6 - p.x2) / 4;
  const xMin = 2 + (p.l - p.x2) / ppx;
  const xMax = 6 + (p.r - p.x6) / ppx;
  const ppy = (p.yB[1] - p.yA[1]) / (p.yA[0] - p.yB[0]);
  const yMax = p.yA[0] + (p.yA[1] - p.t) / ppy;
  const yMin = p.yB[0] - (p.b - p.yB[1]) / ppy;

  // main grid
  const g = grids.length;
  grids.push({ left: p.l, top: p.t, width: p.r - p.l, height: p.b - p.t });
  const xi = axisPair("x", g, xMin, xMax, [2, 4, 6], [1, 3, 5], { ticks: true, labels: true, fmt: signed(0), margin: 9 });
  const yi = axisPair("y", g, yMin, yMax, p.yMaj, p.yMin, { ticks: true, labels: true, fmt: signed(p.yDec), margin: 9 });
  const points = [...p.out, ...p.core.map((y: number, i: number) => [coreX[i], y]).filter((d: number[]) => d[0] != null)];
  seriesList.push({ type: "scatter", xAxisIndex: xi, yAxisIndex: yi, data: points, symbolSize: 16, z: 3, silent: true, itemStyle: { color: "#1c100a", opacity: 0.53 } });
  seriesList.push({
    type: "custom", xAxisIndex: xi, yAxisIndex: yi, data: p.band, z: 4, silent: true, clip: false,
    renderItem: (params: any, api: any) => {
      if (params.dataIndex !== 0) return null;
      const upper = p.band.map((d: number[]) => api.coord([d[0], d[2]]));
      const lower = p.band.map((d: number[]) => api.coord([d[0], d[1]])).reverse();
      return { type: "polygon", shape: { points: [...upper, ...lower] }, style: { fill: "#999999", opacity: 0.38 } };
    },
  });
  seriesList.push({ type: "line", xAxisIndex: xi, yAxisIndex: yi, data: p.line, z: 5, silent: true, symbol: "none", lineStyle: { color: "#1c479e", width: 12.5, cap: "butt" } });

  // top histogram
  const gt = grids.length;
  const ppc = (p.h0 - p.h80) / 80;
  grids.push({ left: p.l, top: p.h80 - 3, width: p.r - p.l, height: p.h0 - p.h80 + 6 });
  const txi = axisPair("x", gt, xMin, xMax, [2, 4, 6], [1, 3, 5], {});
  const tyi = axisPair("y", gt, -3 / ppc, 80 + 3 / ppc, topHistTicks, [10, 30, 50, 70], { ticks: true, labels: false });
  seriesList.push({
    type: "bar", xAxisIndex: txi, yAxisIndex: tyi, z: 3, silent: true, barWidth: rfx1BinWidth * ppx,
    data: rfx1Counts.map((c, i) => [rfx1BinStart + rfx1BinWidth * (i + 0.5), c]),
    itemStyle: { color: "#b23a27", borderColor: "#111", borderWidth: 3.5 },
  });
  topHistTicks.forEach((v) =>
    gfx.push(plain(String(v), p.l - 9, p.h0 - v * ppc, 19.5, { align: "right", fill: LABEL_COLOR })));

  // right histogram
  const gr = grids.length;
  const rMax = (p.rr - p.r0) / p.rPer10 * 10;
  const rMin = -(p.r0 - p.rl) / p.rPer10 * 10;
  grids.push({ left: p.rl, top: p.t, width: p.rr - p.rl, height: p.b - p.t });
  const rMinors = p.rMaj.slice(0, -1).map((v: number, i: number) => (v + p.rMaj[i + 1]) / 2);
  const rxi = axisPair("x", gr, rMin, rMax, p.rMaj, rMinors, { ticks: true, labels: true, fmt: signed(0), font: p.rFont, margin: 5 });
  const ryi = axisPair("y", gr, yMin, yMax, p.yMaj, p.yMin, {});
  const rows = p.hist.map((c: number, i: number) => [p.binTop - p.binW * (i + 1), p.binTop - p.binW * i, c]);
  seriesList.push({
    type: "custom", xAxisIndex: rxi, yAxisIndex: ryi, data: rows, z: 3, silent: true, clip: false,
    encode: { x: 2, y: [0, 1] },
    renderItem: (_: any, api: any) => {
      const a = api.coord([0, api.value(0)]);
      const b = api.coord([api.value(2), api.value(1)]);
      return { type: "rect", shape: { x: a[0], y: b[1], width: b[0] - a[0], height: a[1] - b[1] }, style: { fill: "#1369ac", stroke: "#111", lineWidth: 3.5 } };
    },
  });

  // texts
  gfx.push(plain(p.letter, p.lx, p.ly, p.lf));
  gfx.push(plain("Correlation analysis", p.l, p.tY, p.tW, { fontWeight: "bold" }));
  gfx.push(...richLine(p.sub, p.l, p.subY, p.subW, false));
  gfx.push(...richLine(p.cap, p.capR, p.capY, p.capW, true));
  gfx.push(plain("RFX1", p.xtX, p.xtY, 23, { fontWeight: "bold", align: "center" }));
  gfx.push(plain(p.title, p.ytX, p.ytY, 22, { fontWeight: "bold", align: "center" }, Math.PI / 2));
}

function catAxis(dim: "x" | "y", gridIndex: number, names: string[], position: string, margin: number, font: number) {
  const list = dim === "x" ? xAxes : yAxes;
  list.push({
    type: "category", gridIndex, data: names, position, inverse: dim === "y", silent: true,
    axisLine: { show: false, onZero: false }, axisTick: { show: false }, splitLine: { show: false },
    axisLabel: { interval: 0, rotate: dim === "x" ? 90 : 0, fontSize: font, fontFamily: FONT, color: "#111", margin, hideOverlap: false },
  });
  return list.length - 1;
}
function overlayAxis(dim: "x" | "y", gridIndex: number, n: number) {
  const list = dim === "x" ? xAxes : yAxes;
  list.push({ type: "value", gridIndex, min: -0.5, max: n - 0.5, inverse: dim === "y", show: false });
  return list.length - 1;
}
function linksSeries(xi: number, yi: number, rfx: number[], w: number[], pv: number[], curv: number[]) {
  seriesList.push({
    type: "lines", coordinateSystem: "cartesian2d", xAxisIndex: xi, yAxisIndex: yi, z: 6, silent: true, polyline: false,
    data: w.map((lw, i) => ({
      coords: [rfx, [i, i]],
      lineStyle: { width: lw, color: pv[i] ? LINK_BLUE : LINK_GREY, opacity: 1, curveness: curv[i] },
    })),
  });
  seriesList.push({
    type: "scatter", xAxisIndex: xi, yAxisIndex: yi, z: 7, silent: true, symbolSize: 15,
    data: [...w.map((_, i) => [i, i]), rfx],
    itemStyle: { color: "#e8112d", borderColor: "#1f4da8", borderWidth: 2.5, opacity: 1 },
  });
}

function buildImmune() {
  const g = grids.length;
  const n = immuneNames.length;
  grids.push({ left: 607.8, top: 1195.2, width: 967.9, height: 943.6 });
  const cx = catAxis("x", g, immuneNames, "bottom", 16, 31);
  const cy = catAxis("y", g, immuneNames, "left", 18, 32);
  const cells: number[][] = [];
  immuneR.forEach((row, i) => row.forEach((r, j) => cells.push([j, i + 1, r])));
  seriesList.push({ type: "scatter", xAxisIndex: cx, yAxisIndex: cy, z: 3, silent: true, symbol: "rect", symbolSize: [33.38, 32.54],
    data: cells.map((c) => c.slice(0, 2)), itemStyle: { color: "#ffffff", borderColor: "#a8a8a8", borderWidth: 2, opacity: 1 } });
  seriesList.push({ type: "scatter", xAxisIndex: cx, yAxisIndex: cy, z: 4, silent: true, symbol: "rect",
    symbolSize: (d: number[]) => { const s = Math.min(33, 10 + 25 * d[2]); return [s, s * 0.975]; },
    data: cells.map((c) => ({ value: c, itemStyle: { color: colourOf(immuneStops, c[2]) } })),
    itemStyle: { borderColor: "#6a6a6a", borderWidth: 2, opacity: 1 } });
  const ox = overlayAxis("x", g, n);
  const oy = overlayAxis("y", g, n);
  linksSeries(ox, oy, immuneRfx1, immuneLinkW, immuneLinkP, immuneLinkW.map((_, i) => (i <= 14 ? -0.15 : 0.14)));
  gfx.push(plain("D", 18, 1044, 72));
  gfx.push(plain("RFX1", 1419, 1478, 31.5));
}

function buildPath() {
  const g = grids.length;
  const n = pathNames.length;
  grids.push({ left: 1736.8, top: 1201.4, width: 956, height: 930.6 });
  const cx = catAxis("x", g, pathNames, "top", 25, 31);
  const cy = catAxis("y", g, pathNames, "right", 24, 31.5);
  const cells: number[][] = [];
  pathR.forEach((row, i) => row.forEach((r, k) => cells.push([i + 1 + k, i, r])));
  seriesList.push({ type: "scatter", xAxisIndex: cx, yAxisIndex: cy, z: 3, silent: true, symbol: "rect", symbolSize: [95.6, 93.07],
    data: cells.map((c) => c.slice(0, 2)), itemStyle: { color: "#ffffff", borderColor: "#9a9a9a", borderWidth: 2, opacity: 1 } });
  seriesList.push({ type: "scatter", xAxisIndex: cx, yAxisIndex: cy, z: 4, silent: true, symbol: "rect",
    symbolSize: (d: number[]) => { const k = Math.sqrt(Math.abs(d[2])); return [95.6 * k, 93.07 * k]; },
    data: cells.map((c) => ({ value: c, itemStyle: { color: colourOf(pathStops, c[2]) } })),
    itemStyle: { borderColor: "#6a6a6a", borderWidth: 2, opacity: 1 } });
  const ox = overlayAxis("x", g, n);
  const oy = overlayAxis("y", g, n);
  linksSeries(ox, oy, pathRfx1, pathLinkW, pathLinkP, pathLinkC);
  gfx.push(plain("RFX1", 1780, 1853, 31.5));
}

function legendBox(x: number, top: number, h: number, w: number) {
  gfx.push({ type: "rect", x, y: top, silent: true, z: 40, shape: { width: w, height: h }, style: { fill: "#f2f2f2" } });
}
function legendKey(x1: number, x2: number, y: number, colour: string, lw: number, label: string, lx: number) {
  gfx.push({ type: "line", silent: true, z: 41, shape: { x1, y1: y, x2, y2: y }, style: { stroke: colour, lineWidth: lw } });
  gfx.push(plain(label, lx, y, 26));
}
function colourBar(x: number, w: number, top: number, bottom: number, stops: [number, string][], ticks: [number, string][], lx: number) {
  const lo = stops[0][0];
  const hi = stops[stops.length - 1][0];
  const colorStops = stops.map(([v, c]) => ({ offset: (hi - v) / (hi - lo), color: c })).reverse();
  const mapY = (v: number) => bottom - ((v - lo) / (hi - lo)) * (bottom - top);
  gfx.push({ type: "rect", x, y: top, silent: true, z: 40, shape: { width: w, height: bottom - top },
    style: { fill: new echarts.graphic.LinearGradient(0, 0, 0, 1, colorStops) } });
  ticks.forEach(([v, label]) => {
    const y = mapY(v);
    gfx.push({ type: "line", silent: true, z: 41, shape: { x1: x, y1: y, x2: x + 10, y2: y }, style: { stroke: "#fff", lineWidth: 1.5 } });
    gfx.push({ type: "line", silent: true, z: 41, shape: { x1: x + w - 10, y1: y, x2: x + w, y2: y }, style: { stroke: "#fff", lineWidth: 1.5 } });
    gfx.push(plain(label, lx, y, 26));
  });
}

function buildLegends() {
  // left block
  gfx.push(plain("Pearson's p", 32, 1333, 31.5));
  legendBox(32, 1362, 99, 50);
  legendKey(37, 77, 1386, LINK_BLUE, 4, "< 0.05", 98);
  legendKey(37, 77, 1435, LINK_GREY, 4, ">= 0.05", 98);
  gfx.push(plain("Pearson's r", 32, 1538, 31.5));
  legendBox(32, 1566, 99, 50);
  legendKey(37, 77, 1591, "#5a5a5a", 4, "−0.4 ~ 0", 98);
  legendKey(37, 77, 1640, "#5a5a5a", 8, "0 ~ 0.4", 98);
  gfx.push(plain("Pearson's r", 32, 1743, 31.5));
  colourBar(32, 50, 1771, 2016, immuneStops, [[.8, "0.8"], [.6, "0.6"], [.4, "0.4"], [.2, "0.2"]], 98);
  // right block
  gfx.push(plain("Pearson's p", 2913, 1308, 31.5));
  legendBox(2913, 1337, 98, 51);
  legendKey(2919, 2958, 1362, LINK_BLUE, 4, "< 0.05", 2980);
  legendKey(2919, 2958, 1411, LINK_GREY, 4, ">= 0.05", 2980);
  gfx.push(plain("Pearson's r", 2913, 1512, 31.5));
  legendBox(2913, 1543, 146, 51);
  legendKey(2919, 2958, 1567, "#5a5a5a", 4, "−0.4 ~ 0", 2980);
  legendKey(2919, 2958, 1616, "#5a5a5a", 8, "0 ~ 0.4", 2980);
  legendKey(2919, 2958, 1665, "#5a5a5a", 16, "0.4 ~ 0.7", 2980);
  gfx.push(plain("Pearson's r", 2913, 1766, 31.5));
  colourBar(2913, 51, 1796, 2041, pathStops, [[.5, "0.50"], [.25, "0.25"], [0, "0.00"], [-.25, "−0.25"]], 2980);
}

function buildOption() {
  grids.length = 0; xAxes.length = 0; yAxes.length = 0; seriesList.length = 0; gfx.length = 0;
  PANELS.forEach(buildPanel);
  buildImmune();
  buildPath();
  buildLegends();
  return {
    animation: false,
    backgroundColor: "#ffffff",
    textStyle: { fontFamily: FONT },
    grid: grids,
    xAxis: xAxes,
    yAxis: yAxes,
    series: seriesList,
    graphic: { elements: gfx },
  };
}

export default function App() {
  const ref = useRef<HTMLDivElement>(null);
  useEffect(() => {
    document.body.style.margin = "0";
    const chart = echarts.init(ref.current as HTMLDivElement, null, { renderer: "svg" });
    chart.setOption(buildOption() as any);
    return () => chart.dispose();
  }, []);
  return <div ref={ref} style={{ width: 3111, height: 3444, display: "block" }} />;
}
